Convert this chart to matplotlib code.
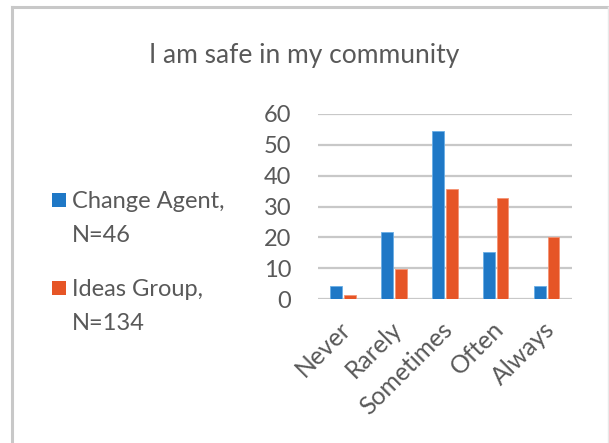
import matplotlib
matplotlib.use("Agg")
import matplotlib.pyplot as plt
from matplotlib.lines import Line2D
from matplotlib.patches import Rectangle
import matplotlib.transforms as mtransforms
import numpy as np

categories = ["Never", "Rarely", "Sometimes", "Often", "Always"]
change_agent = [4.3, 21.7, 54.3, 15.2, 4.3]
ideas_group = [1.5, 9.7, 35.8, 32.8, 20.1]
series_labels = [["Change Agent,", "N=46"], ["Ideas Group,", "N=134"]]
yticks = [0, 10, 20, 30, 40, 50, 60]
title = "I am safe in my community"

plt.rcParams['font.family'] = ['Lato', 'DejaVu Sans']
txt = '#595959'
W, H = 609, 443

fig = plt.figure(figsize=(6.09, 4.43), dpi=100)
ax = fig.add_axes([317.7/W, 1-299.3/H, (572-317.7)/W, (299.3-113.7)/H])

x = np.arange(len(categories))
w = 0.23
off = 0.135
colors = ['#1f78c6', '#e65526']
b1 = ax.bar(x - off, change_agent, w, color=colors[0], edgecolor='#6aaee6', linewidth=0.6, zorder=3)
b2 = ax.bar(x + off, ideas_group, w, color=colors[1], edgecolor='#f59373', linewidth=0.6, zorder=3)

ax.set_xlim(-0.5, len(categories) - 0.5)
ax.set_ylim(0, 60)
ax.set_yticks(yticks)
ax.yaxis.grid(True, color='#c8c8c8', linewidth=1.6, zorder=0)
for s in ax.spines.values():
    s.set_visible(False)
ax.tick_params(axis='both', length=0, labelsize=17, colors=txt)
ax.tick_params(axis='y', pad=19)
ax.set_xticks(x)
ax.set_xticklabels(categories, rotation=45, ha='right', va='top', rotation_mode='anchor', fontsize=17.8)
ax.tick_params(axis='x', pad=13)
shift = mtransforms.ScaledTranslation(-4/100, 0, fig.dpi_scale_trans)
for lab in ax.get_xticklabels():
    lab.set_transform(lab.get_transform() + shift)

fig.text(0.5, 1-55/H, title, ha='center', va='center', fontsize=19, color=txt)

# legend (manual, aligned to first line like the reference)
leg_items = [(b1, series_labels[0], 200), (b2, series_labels[1], 288)]
for bars, lines, yc in leg_items:
    fc = bars.patches[0].get_facecolor()
    fig.add_artist(Rectangle((52/W, 1-(yc+6.8)/H), 13.5/W, 13.5/H, transform=fig.transFigure,
                             facecolor=fc, edgecolor='none'))
    fig.text(71.5/W, 1-(yc+8.5)/H, lines[0], ha='left', va='baseline', fontsize=17, color=txt)
    fig.text(71.5/W, 1-(yc+41.5)/H, lines[1], ha='left', va='baseline', fontsize=17, color=txt)

# chart border
fig.add_artist(Line2D([12/W, 12/W], [0, 1-7/H], transform=fig.transFigure, color='#c8c8c8', linewidth=2.2))
fig.add_artist(Line2D([12/W, 1], [1-7/H, 1-7/H], transform=fig.transFigure, color='#c8c8c8', linewidth=2.2))
fig.add_artist(Line2D([608/W, 608/W], [0, 1-7/H], transform=fig.transFigure, color='#e8e8e8', linewidth=1))

fig.savefig("out.png", dpi=100)
